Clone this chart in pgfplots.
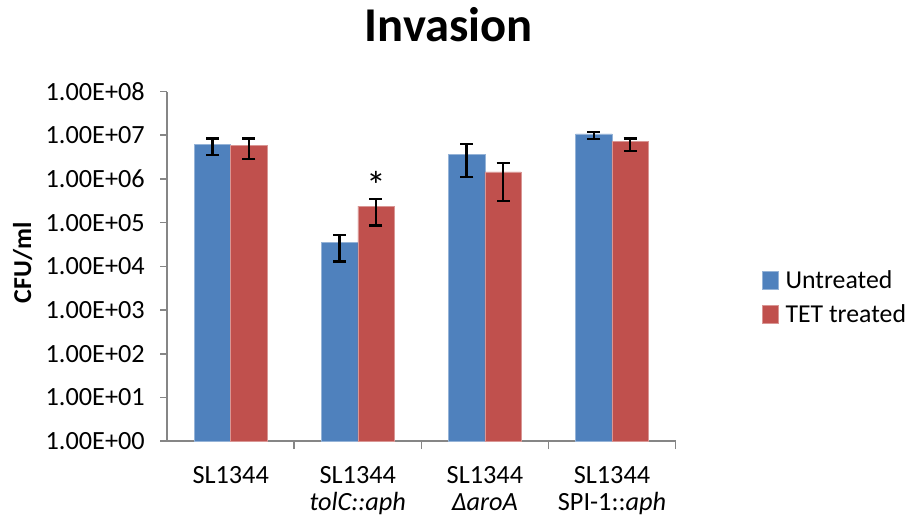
\documentclass[border=0pt]{standalone}
\usepackage{pgfplots}
\pgfplotsset{compat=1.18}
\usepackage{pgfplotstable}
\usepackage{fontspec}
\setmainfont{Carlito}
\definecolor{cblue}{HTML}{4F81BD}
\definecolor{cred}{HTML}{C0504D}
\definecolor{axgray}{HTML}{868686}
% x positions: category index minus/plus half a bar width (0.1426 axis units)
\pgfplotstableread{
x y ep em
-0.1426 6.3e6 2.2e6 2.8e6
0.8574 3.5e4 1.7e4 2.2e4
1.8574 3.7e6 2.6e6 2.6e6
2.8574 1.07e7 1.0e6 2.4e6
}\untreated
\pgfplotstableread{
x y ep em
0.1426 5.9e6 2.6e6 3.0e6
1.1426 2.4e5 1.1e5 1.53e5
2.1426 1.45e6 0.85e6 1.14e6
3.1426 7.2e6 1.3e6 2.8e6
}\treated
\begin{document}
\begin{tikzpicture}
\begin{axis}[
  scale only axis, width=511bp, height=351.5bp,
  ymode=log, ymin=1, ymax=1e8,
  xmin=-0.5, xmax=3.5,
  axis x line*=bottom, axis y line*=left,
  axis line style={axgray, line width=1.6bp, -},
  ytick={1,10,100,1000,1e4,1e5,1e6,1e7,1e8},
  yticklabels={1.00E+00,1.00E+01,1.00E+02,1.00E+03,1.00E+04,1.00E+05,1.00E+06,1.00E+07,1.00E+08},
  yminorticks=false,
  ytick style={axgray, line width=1.6bp},
  major tick length=7bp,
  tick align=outside,
  xtick={0,1,2,3},
  xticklabels={SL1344, {SL1344\\\textit{tolC::aph}}, {SL1344\\\textit{ΔaroA}}, {SL1344\\SPI-1::\textit{aph}}},
  x tick style={draw=none},
  minor xtick={0.5,1.5,2.5,3.5},
  minor x tick style={axgray, line width=1.6bp, draw=axgray},
  minor tick length=8bp,
  every tick label/.style={font=\fontsize{26.5}{27}\selectfont, text=black},
  xticklabel style={align=center, yshift=-15bp},
  yticklabel style={xshift=-12bp},
  ylabel={\bfseries CFU/ml},
  ylabel style={font=\fontsize{26}{28}\selectfont, at={(axis description cs:-0.284,0.51)}, anchor=center},
  title={\bfseries Invasion},
  title style={font=\fontsize{49}{52}\selectfont, at={(axis description cs:0.554,1.127)}, anchor=base},
  legend style={draw=none, fill=none, at={(axis description cs:1.17,0.4125)}, anchor=west,
     font=\fontsize{26}{27}\selectfont, row sep=15bp, inner sep=0pt,
     nodes={inner xsep=7bp, inner ysep=0pt}},
  legend cell align=left,
  legend image code/.code={\fill[#1] (0bp,-9bp) rectangle (16bp,9bp);},
  error bars/y dir=both,
  error bars/y explicit,
  error bars/error bar style={black, line width=2.6bp},
  error bars/error mark options={black, line width=2.4bp, mark size=6.5bp, rotate=90},
  clip=false,
]
\addplot[ybar, bar width=36.5bp, bar shift=0bp, fill=cblue, draw=cblue!60!white, line width=0.5bp]
  table[x=x, y=y, y error plus=ep, y error minus=em] {\untreated};
\addlegendentry{Untreated}
\addplot[ybar, bar width=36.5bp, bar shift=0bp, fill=cred, draw=cred!60!white, line width=0.5bp]
  table[x=x, y=y, y error plus=ep, y error minus=em] {\treated};
\addlegendentry{TET treated}
\node[font=\fontsize{40}{40}\selectfont] at (axis cs:1.143,0.72e6) {*};
\coordinate (O) at (rel axis cs:0,0);
\end{axis}
\path (O) ++(-168bp,-82.5bp) rectangle ++(913bp,526bp);
\end{tikzpicture}
\end{document}
